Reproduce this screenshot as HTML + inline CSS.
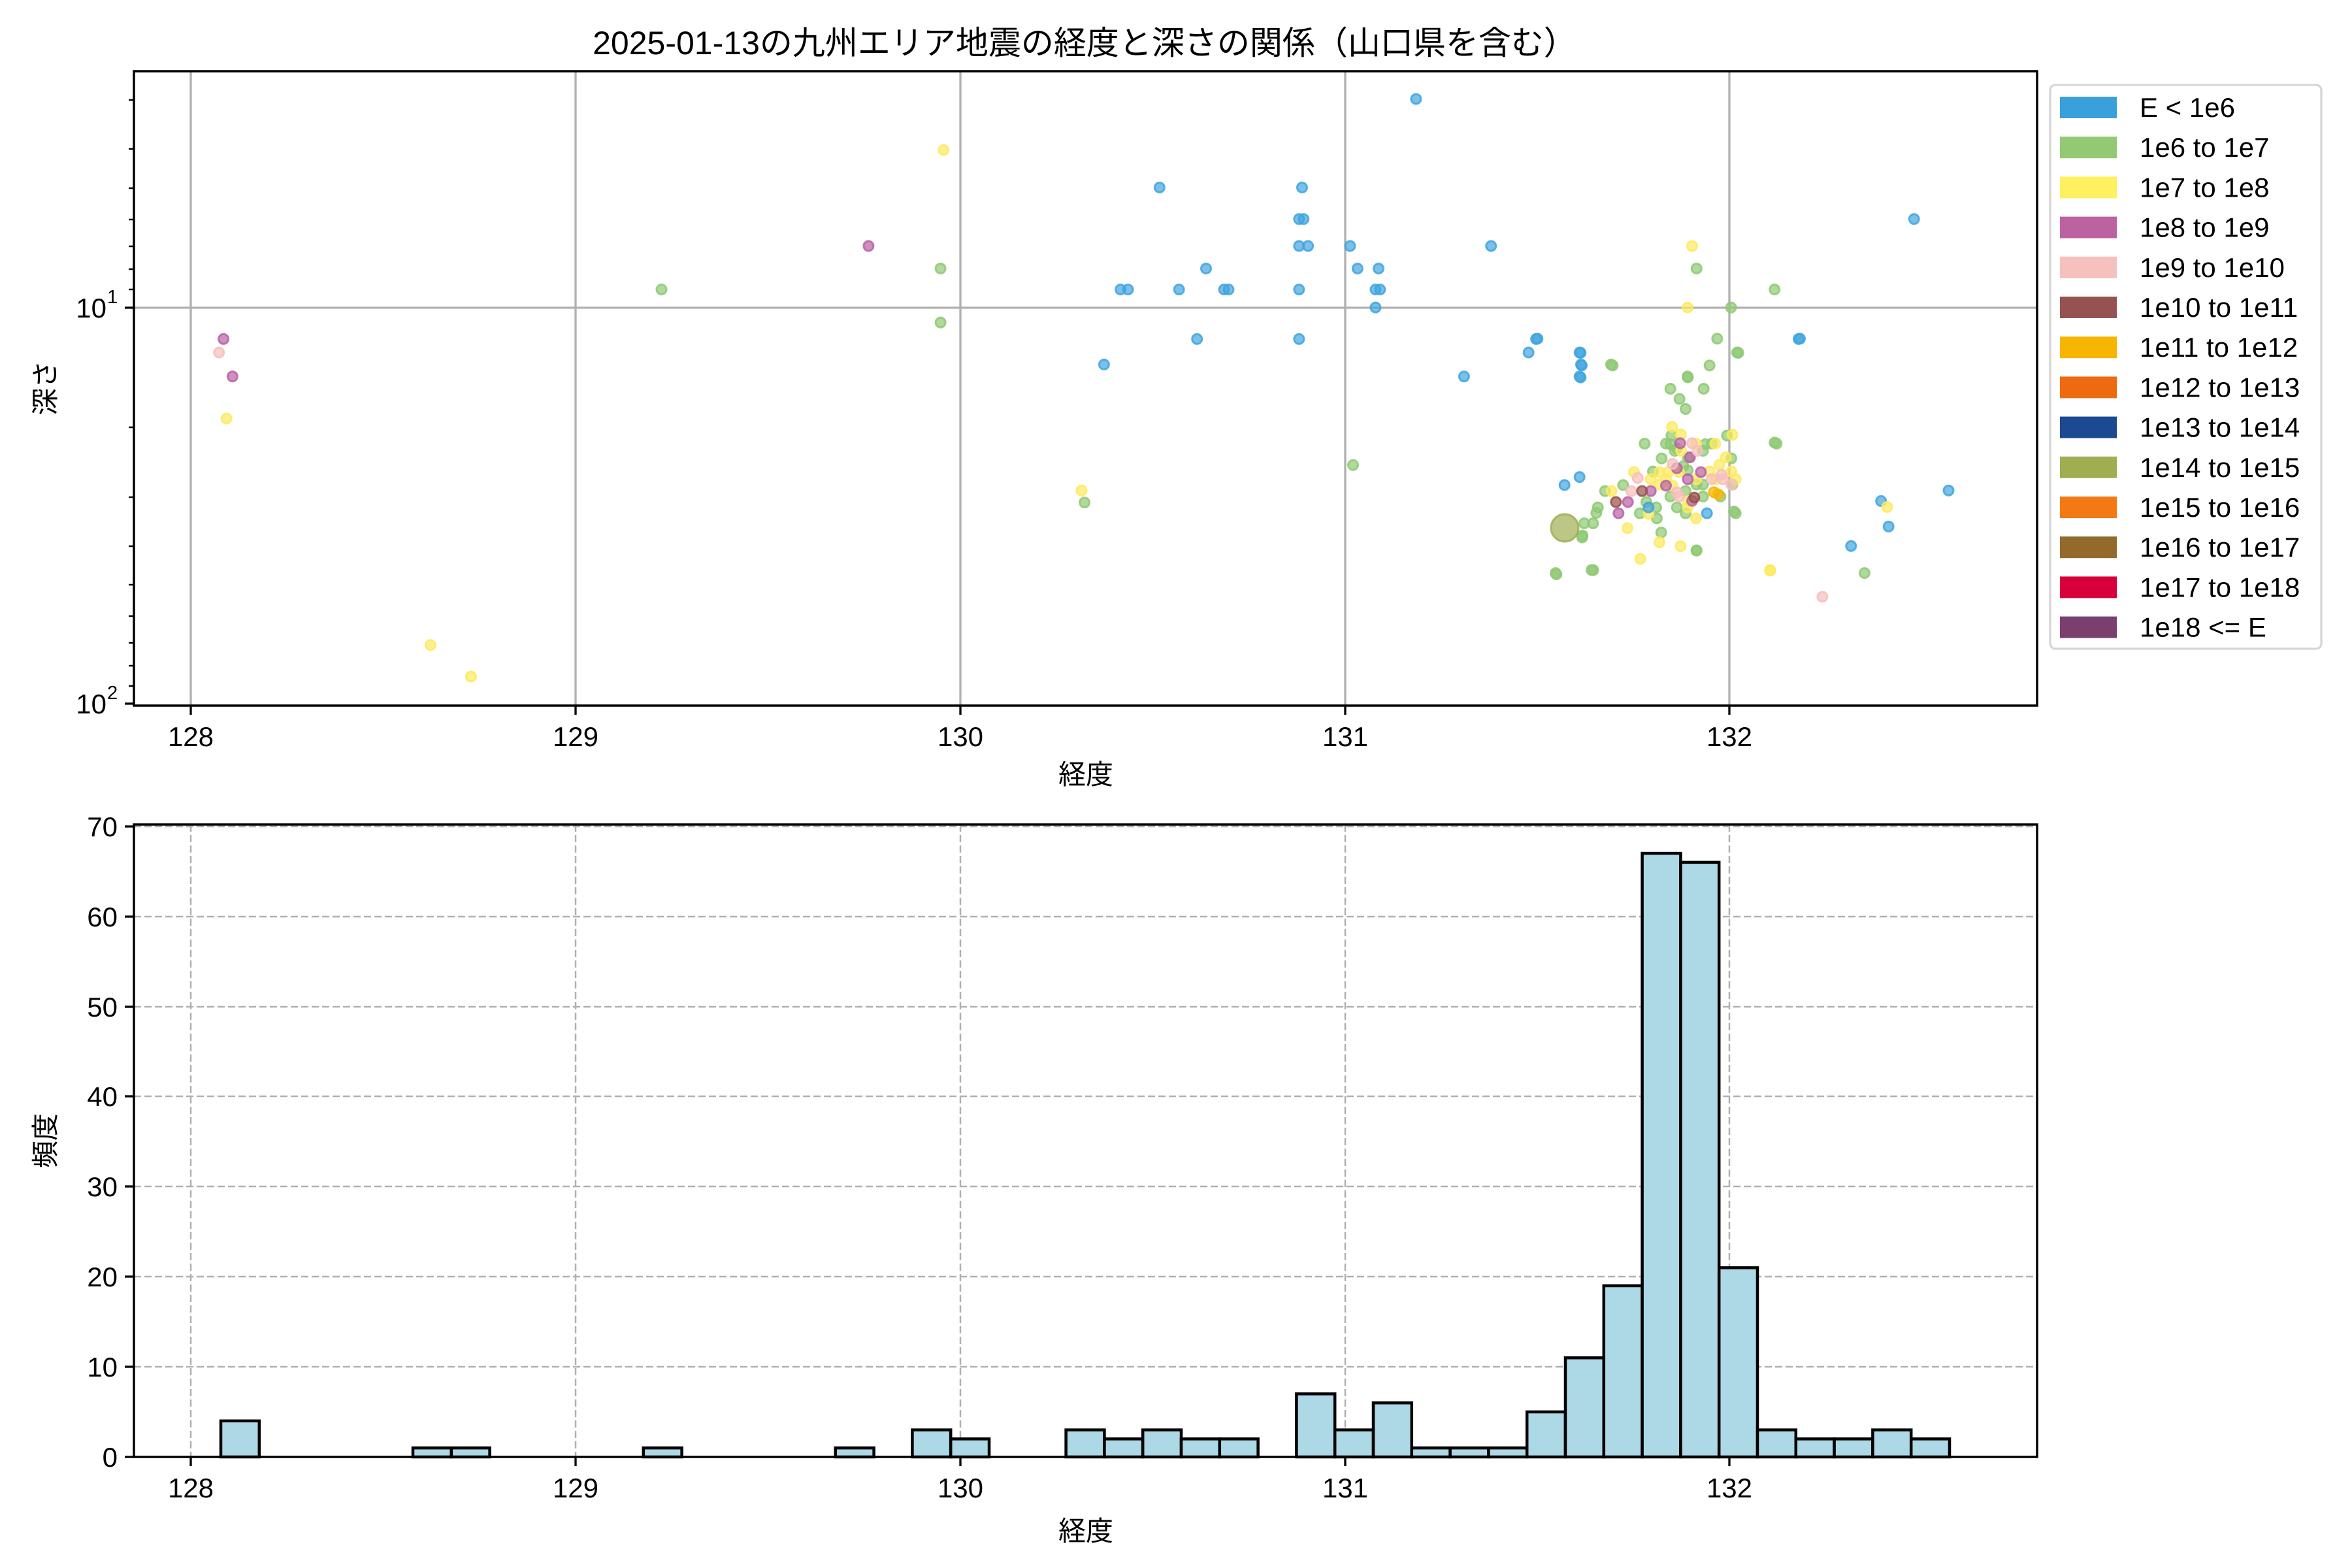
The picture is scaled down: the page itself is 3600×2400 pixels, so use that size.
<!DOCTYPE html>
<html><head><meta charset="utf-8">
<style>
html,body{margin:0;padding:0;background:#fff;}
svg{display:block;}
text{font-family:"Liberation Sans","Noto Sans CJK JP",sans-serif;fill:#000;}
</style></head>
<body>
<svg id="s" width="3600" height="2400" viewBox="0 0 3600 2400" xmlns="http://www.w3.org/2000/svg">
<rect width="3600" height="2400" fill="#fff"/>
<text x="1660" y="83" font-size="50" text-anchor="middle">2025-01-13の九州エリア地震の経度と深さの関係（山口県を含む）</text>
<g id="topgrid" stroke="#b0b0b0" stroke-width="3.3">
<line x1="292" y1="109" x2="292" y2="1080"/><line x1="881" y1="109" x2="881" y2="1080"/>
<line x1="1470" y1="109" x2="1470" y2="1080"/><line x1="2059" y1="109" x2="2059" y2="1080"/>
<line x1="2647" y1="109" x2="2647" y2="1080"/>
<line x1="205" y1="471" x2="3118" y2="471"/>
</g>
<g id="pts"></g>
<rect x="205" y="109" width="2913" height="971" fill="none" stroke="#000" stroke-width="3.5"/>
<g stroke="#000" stroke-width="3.3">
<line x1="292" y1="1080" x2="292" y2="1094"/><line x1="881" y1="1080" x2="881" y2="1094"/>
<line x1="1470" y1="1080" x2="1470" y2="1094"/><line x1="2059" y1="1080" x2="2059" y2="1094"/>
<line x1="2647" y1="1080" x2="2647" y2="1094"/>
<line x1="191" y1="471" x2="205" y2="471"/><line x1="191" y1="1077" x2="205" y2="1077"/>
</g>
<g stroke="#000" stroke-width="2.5">
<line x1="197" y1="153" x2="205" y2="153"/><line x1="197" y1="228" x2="205" y2="228"/>
<line x1="197" y1="288" x2="205" y2="288"/><line x1="197" y1="336" x2="205" y2="336"/>
<line x1="197" y1="377" x2="205" y2="377"/><line x1="197" y1="412" x2="205" y2="412"/>
<line x1="197" y1="443" x2="205" y2="443"/>
<line x1="197" y1="654" x2="205" y2="654"/><line x1="197" y1="761" x2="205" y2="761"/>
<line x1="197" y1="836" x2="205" y2="836"/><line x1="197" y1="895" x2="205" y2="895"/>
<line x1="197" y1="943" x2="205" y2="943"/><line x1="197" y1="984" x2="205" y2="984"/>
<line x1="197" y1="1019" x2="205" y2="1019"/><line x1="197" y1="1050" x2="205" y2="1050"/>
</g>
<g font-size="42" text-anchor="middle">
<text x="292" y="1142">128</text><text x="881" y="1142">129</text><text x="1470" y="1142">130</text>
<text x="2059" y="1142">131</text><text x="2647" y="1142">132</text>
<text x="1662" y="1200">経度</text>
</g>
<text x="163" y="486" font-size="42" text-anchor="end">10</text><text x="164" y="464" font-size="29">1</text>
<text x="163" y="1092" font-size="42" text-anchor="end">10</text><text x="164" y="1070" font-size="29">2</text>
<text transform="translate(84,594) rotate(-90)" font-size="42" text-anchor="middle">深さ</text>

<rect x="3138" y="130" width="415" height="863" rx="8" fill="#fff" stroke="#d6d6d6" stroke-width="3.3"/>
<g id="leg" font-size="42"></g>

<g stroke="#b0b0b0" stroke-width="2.5" stroke-dasharray="11,5">
<line x1="292" y1="1262" x2="292" y2="2230"/><line x1="881" y1="1262" x2="881" y2="2230"/>
<line x1="1470" y1="1262" x2="1470" y2="2230"/><line x1="2059" y1="1262" x2="2059" y2="2230"/>
<line x1="2647" y1="1262" x2="2647" y2="2230"/>
<line x1="205" y1="2092" x2="3118" y2="2092"/><line x1="205" y1="1954" x2="3118" y2="1954"/>
<line x1="205" y1="1816" x2="3118" y2="1816"/><line x1="205" y1="1678" x2="3118" y2="1678"/>
<line x1="205" y1="1541" x2="3118" y2="1541"/><line x1="205" y1="1403" x2="3118" y2="1403"/>
<line x1="205" y1="1265" x2="3118" y2="1265"/>
</g>
<g id="bars" fill="#add8e6" stroke="#000" stroke-width="4.5"></g>
<rect x="205" y="1262" width="2913" height="968" fill="none" stroke="#000" stroke-width="3.5"/>
<g stroke="#000" stroke-width="3.3">
<line x1="292" y1="2230" x2="292" y2="2244"/><line x1="881" y1="2230" x2="881" y2="2244"/>
<line x1="1470" y1="2230" x2="1470" y2="2244"/><line x1="2059" y1="2230" x2="2059" y2="2244"/>
<line x1="2647" y1="2230" x2="2647" y2="2244"/>
<line x1="191" y1="2230" x2="205" y2="2230"/><line x1="191" y1="2092" x2="205" y2="2092"/>
<line x1="191" y1="1954" x2="205" y2="1954"/><line x1="191" y1="1816" x2="205" y2="1816"/>
<line x1="191" y1="1678" x2="205" y2="1678"/><line x1="191" y1="1541" x2="205" y2="1541"/>
<line x1="191" y1="1403" x2="205" y2="1403"/><line x1="191" y1="1265" x2="205" y2="1265"/>
</g>
<g font-size="42" text-anchor="middle">
<text x="292" y="2292">128</text><text x="881" y="2292">129</text><text x="1470" y="2292">130</text>
<text x="2059" y="2292">131</text><text x="2647" y="2292">132</text>
<text x="1662" y="2358">経度</text>
</g>
<g font-size="42" text-anchor="end">
<text x="180" y="2245">0</text><text x="180" y="2107">10</text><text x="180" y="1969">20</text>
<text x="180" y="1831">30</text><text x="180" y="1693">40</text><text x="180" y="1556">50</text>
<text x="180" y="1418">60</text><text x="180" y="1280">70</text>
</g>
<text transform="translate(84,1746) rotate(-90)" font-size="42" text-anchor="middle">頻度</text>
</svg>
<script>
var NS="http://www.w3.org/2000/svg";
function el(t,a,p){var e=document.createElementNS(NS,t);for(var k in a)e.setAttribute(k,a[k]);if(p)p.appendChild(e);return e;}
var C={b:"#41a5de",g:"#8fc974",y:"#fdea5e",p:"#b962a4",k:"#f6bfbb",r:"#95514a",o:"#f8b500",v:"#9fae52"};
var pts=document.getElementById("pts");
function pt(x,y,c,r){el("circle",{cx:x,cy:y,r:r||7.5,fill:C[c],"fill-opacity":0.7,stroke:C[c],"stroke-opacity":0.85,"stroke-width":3},pts);}
var S=2.296;
var D={
b:[[944,66],[773,125],[868,125],[866,146],[869,146],[866,164],[872,164],[900,164],[994,164],[804,179],[905,179],[919,179],[747,193],[752,193],[786,193],[816,193],[819,193],[866,193],[917,193],[920,193],[917,205],[866,226],[798,226],[1024,226],[1019,235],[1199,226],[1053,235],[1054,243],[1053,251],[736,243],[976,251],[1276,146],[1299,327],[1254,334],[1259,351],[1234,364],[1053,318]],
g:[[441,193],[627,179],[627,215],[902,310],[1131,179],[1183,193],[1154,205],[1158,235],[1074,243],[1125,251],[1183,295],[1156,341],[1037,382],[1061,380],[1131,367],[1243,382],[723,335],[1055,357]],
y:[[629,100],[1128,164],[1125,205],[151,279],[721,327],[287,430],[314,451],[1180,380],[1258,338]],
p:[[579,164],[149,226],[155,251]],
k:[[146,235]]
};
for(var c in D)D[c].forEach(function(q){pt(q[0]*S,q[1]*S,c);});
var Z={
g:[[835,55],[932,120],[355,178],[800,178],[700,233],[620,285],[773,285],[662,332],[690,378],[502,537],[1108,537],[600,537],[625,500],[640,570],[700,600],[770,570],[880,500],[900,605],[580,605],[540,665],[403,727],[320,755],[287,830],[280,855],[225,903],[265,903],[215,968],[480,857],[510,805],[555,830],[558,880],[578,945],[740,1028],[97,1137],[266,1118],[690,755],[650,830],[690,857],[770,780],[850,780],[920,857],[905,725],[740,725],[770,725],[700,660],[810,537],[620,540],[650,560],[780,540],[680,640],[620,780]],
y:[[628,460],[668,495],[738,537],[826,537],[905,497],[670,570],[453,668],[350,755],[530,700],[570,668],[610,668],[660,668],[630,730],[570,725],[830,700],[875,600],[845,635],[920,700],[900,665],[700,800],[700,830],[738,880],[423,925],[570,990],[667,1008],[482,1066],[1078,1120],[520,860],[800,665],[740,700],[600,700]],
p:[[665,535],[710,600],[760,668],[700,700],[530,755],[425,805],[382,857],[600,730],[720,800],[650,650]],
k:[[720,535],[745,570],[630,630],[470,695],[440,755],[650,760],[810,700],[860,700],[900,725],[1318,1240],[660,780],[855,680]],
r:[[370,805],[490,755],[730,785]],
o:[[820,760],[840,770]],
b:[[10,55],[208,120],[213,178],[208,233],[1215,55],[134,727],[788,857],[520,830]]
};
for(var c in Z)Z[c].forEach(function(q){pt(2350+q[0]/3,500+q[1]/3,c);});
pt(2395,808,"v",21);
var L=[["E < 1e6","#3aa0da"],["1e6 to 1e7","#93c973"],["1e7 to 1e8","#fef05f"],["1e8 to 1e9","#bc62a1"],["1e9 to 1e10","#f6c0bc"],["1e10 to 1e11","#965250"],["1e11 to 1e12","#f7b500"],["1e12 to 1e13","#ee6a10"],["1e13 to 1e14","#1b4a91"],["1e14 to 1e15","#a0ad50"],["1e15 to 1e16","#f37a12"],["1e16 to 1e17","#936a2b"],["1e17 to 1e18","#d8003a"],["1e18 <= E","#7b3f6f"]];
var lg=document.getElementById("leg");
L.forEach(function(l,i){var cy=164+i*61.2;el("rect",{x:3153,y:cy-16,width:87,height:33,fill:l[1]},lg);var t=el("text",{x:3275,y:cy+15},lg);t.textContent=l[0];});
var H={0:4,5:1,6:1,11:1,16:1,18:3,19:2,22:3,23:2,24:3,25:2,26:2,28:7,29:3,30:6,31:1,32:1,33:1,34:5,35:11,36:19,37:67,38:66,39:21,40:3,41:2,42:2,43:3,44:2};
var bg=document.getElementById("bars");
for(var i in H){var h=H[i]*13.79;el("rect",{x:338+i*58.8,y:2230-h,width:58.8,height:h},bg);}
</script>
</body></html>
